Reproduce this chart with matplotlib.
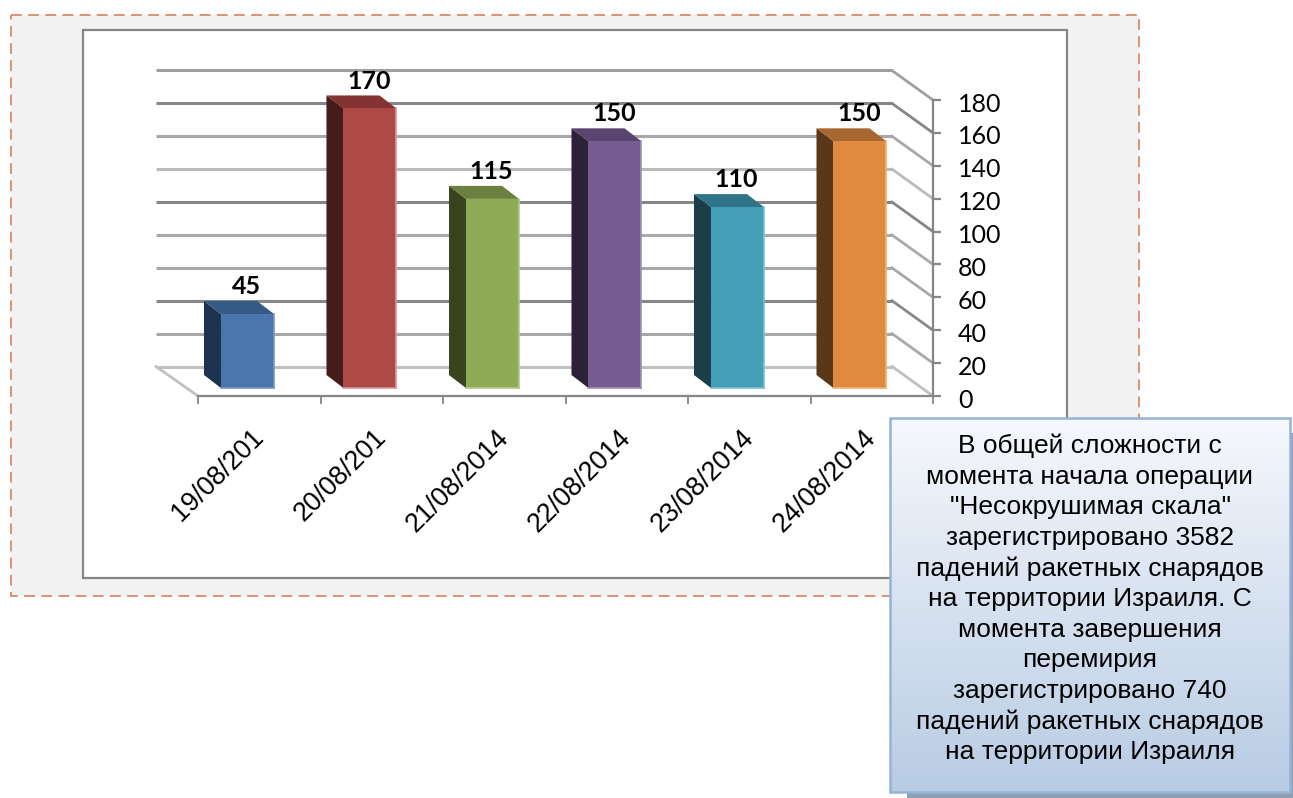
import numpy as np
import matplotlib
matplotlib.use('Agg')
import matplotlib.pyplot as plt
from matplotlib.patches import Rectangle, Polygon
from matplotlib.transforms import ScaledTranslation

W, H = 1293, 798

dates = ['19/08/201', '20/08/201', '21/08/2014', '22/08/2014', '23/08/2014', '24/08/2014']
values = [45, 170, 115, 150, 110, 150]
front_colors = ['#4a76ad', '#ae4a46', '#90ab55', '#775c93', '#43a0b8', '#e08a3f']
side_colors = ['#1e3350', '#451c1a', '#3a431f', '#2c2238', '#1b3e49', '#5a3718']
top_colors = ['#345a85', '#833432', '#6b8040', '#594570', '#2f7488', '#a86630']
edge_colors = ['#7b97bd', '#d6979a', '#b4c888', '#a08fb8', '#7fc0d0', '#f0b070']

grid_values = [0, 20, 40, 60, 80, 100, 120, 140, 160, 180]
grid_colors = ['#c0c0c0', '#a8a8a8', '#888888', '#a8a8a8', '#aaaaaa',
               '#868686', '#bbbbbb', '#a8a8a8', '#868686', '#a0a0a0']

note_lines = ['В общей сложности с', 'момента начала операции',
              '"Несокрушимая скала"', 'зарегистрировано 3582',
              'падений ракетных снарядов', 'на территории Израиля. С',
              'момента завершения', 'перемирия', 'зарегистрировано 740',
              'падений ракетных снарядов', 'на территории Израиля']


def px_axes(x0, y0, x1, y1, **kw):
    # axes from pixel box, y counted from the top of the picture
    return fig.add_axes([x0 / W, 1 - y1 / H, (x1 - x0) / W, (y1 - y0) / H], **kw)


fig = plt.figure(figsize=(W / 100, H / 100), dpi=100, facecolor='white')

# page background
bg = px_axes(0, 0, W, H, zorder=0)
bg.set_xlim(0, W)
bg.set_ylim(H, 0)
bg.axis('off')
bg.add_patch(Rectangle((10.5, 14.5), 1128, 581, facecolor='#f2f2f2', edgecolor='#d98a68',
                       linewidth=1.3, linestyle=(0, (6, 3.5))))
bg.add_patch(Rectangle((83, 30), 984, 548, facecolor='white', edgecolor='#868686', linewidth=1.6))

# chart
ax = px_axes(198, 100, 933, 396, zorder=1)
ax.patch.set_visible(False)
ax.set_xlim(0, 6)
ax.set_ylim(0, 180)

px_x = 6 / 735.
px_y = 180 / 296.
wall_dx = 41 * px_x
wall_dy = 29.5 * px_y
wall_left = -42 * px_x
wall_right = 6 - wall_dx

for v, c in zip(grid_values, grid_colors):
    ax.plot([wall_left, wall_right], [v + wall_dy, v + wall_dy], color=c, lw=2.2,
            solid_capstyle='butt', clip_on=False, zorder=1)
    ax.plot([wall_right, 6], [v + wall_dy, v], color=c, lw=2, clip_on=False, zorder=1)
ax.plot([wall_left, 0], [wall_dy, 0], color='#c0c0c0', lw=2, clip_on=False, zorder=1)

base = 8 * px_y
bar_w = 53 * px_x
depth_x = 17 * px_x
depth_y = 13 * px_y
xpos = np.arange(len(values)) + 0.404

ax.bar(xpos, values, bar_w, bottom=base, color=front_colors, linewidth=0, zorder=3, clip_on=False)
for x, v, fc, sc, tc, ec in zip(xpos, values, front_colors, side_colors, top_colors, edge_colors):
    l, r = x - bar_w / 2, x + bar_w / 2
    top = base + v
    ax.add_patch(Polygon([(l, base), (l - depth_x, base + depth_y), (l - depth_x, top + depth_y), (l, top)],
                         facecolor=sc, edgecolor='none', zorder=2, clip_on=False))
    ax.add_patch(Polygon([(l, top), (l - depth_x, top + depth_y), (r - depth_x, top + depth_y), (r, top)],
                         facecolor=tc, edgecolor='none', zorder=2, clip_on=False))
    ax.plot([r, r], [base, top], color=ec, lw=1.2, zorder=4, clip_on=False)
    ax.plot([l, r], [base, base], color=ec, lw=1.2, zorder=4, clip_on=False)
    ax.annotate(str(v), (x, top), xytext=(-0.7, 19.7), textcoords='offset points', ha='center', va='center',
                fontsize=18, fontweight='bold', family='Lato', color='black', zorder=5)

for s in ['left', 'top']:
    ax.spines[s].set_visible(False)
for s in ['right', 'bottom']:
    ax.spines[s].set_color('#868686')
    ax.spines[s].set_linewidth(1.6)

ax.yaxis.tick_right()
ax.set_yticks(grid_values)
ax.tick_params(axis='y', length=6, width=1.6, color='#868686', pad=12, labelsize=18, labelcolor='black')
ylab_shift = ScaledTranslation(0, -2 / 100, fig.dpi_scale_trans)
for t in ax.get_yticklabels():
    t.set_family('Lato')
    t.set_transform(t.get_transform() + ylab_shift)

ax.set_xticks(np.arange(7))
ax.set_xticklabels([])
ax.tick_params(axis='x', which='major', length=6, width=1.3, color='#868686')
ax.set_xticks(np.arange(6) + 0.426, minor=True)
ax.set_xticklabels(dates, minor=True, rotation=45, ha='right', va='top', rotation_mode='anchor',
                   fontsize=19.2, family='Liberation Sans')
ax.tick_params(axis='x', which='minor', length=0, pad=20.5)

# note box, over everything
top_ax = px_axes(0, 0, W, H, zorder=2)
top_ax.patch.set_visible(False)
top_ax.set_xlim(0, W)
top_ax.set_ylim(H, 0)
top_ax.axis('off')
top_ax.add_patch(Rectangle((907, 433), 386, 365, facecolor='#8f9fb2', edgecolor='none', zorder=1))
shade = np.linspace(0, 1, 256).reshape(-1, 1)
top_ax.imshow(shade, extent=(890, 1290, 792, 418), aspect='auto', zorder=2,
              cmap=matplotlib.colors.LinearSegmentedColormap.from_list('note', ['#f6f8fc', '#b8cce4']))
top_ax.set_xlim(0, W)
top_ax.set_ylim(H, 0)
top_ax.add_patch(Rectangle((890, 418), 400, 374, facecolor='none', edgecolor='#95b3d7', linewidth=1.8, zorder=3))
for i, line in enumerate(note_lines):
    top_ax.text(1090, 446 + 30.6 * i, line, ha='center', va='center', fontsize=19,
                family='Liberation Sans', color='black', zorder=4)

fig.savefig('out.png', dpi=100)
